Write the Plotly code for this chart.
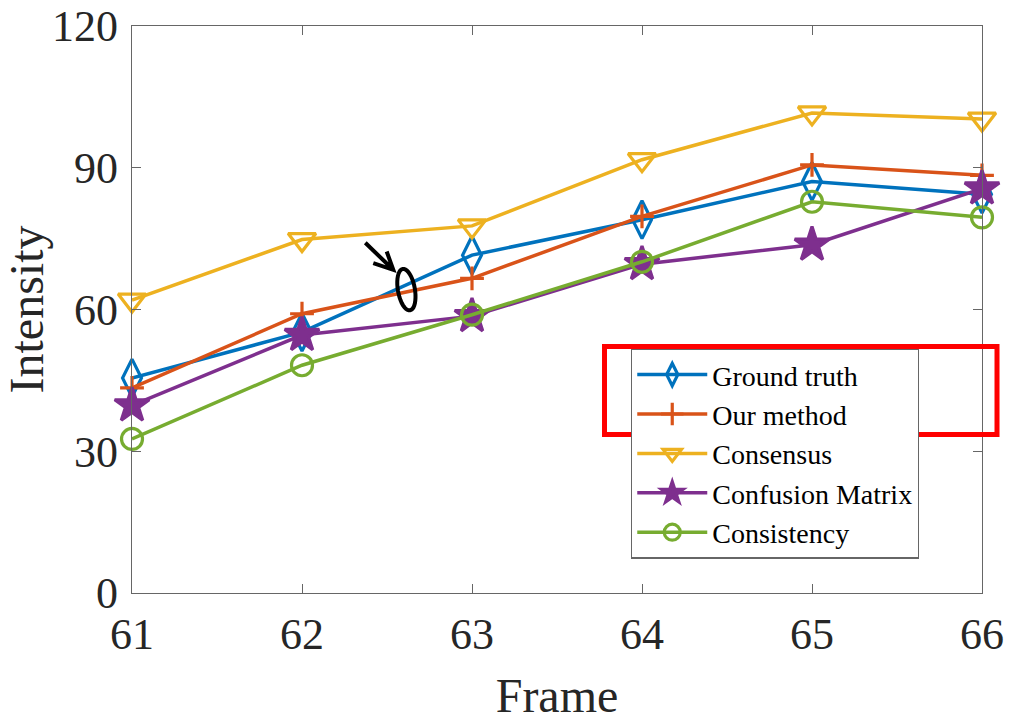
import math
import plotly.graph_objects as go

frames = [61, 62, 63, 64, 65, 66]
ground_truth = [45.5, 55.2, 71.5, 79.0, 87.1, 84.4]
our_method = [43.4, 59.1, 66.6, 79.7, 90.6, 88.4]
consensus = [62.0, 74.8, 77.7, 91.7, 101.6, 100.3]
confusion_matrix = [39.7, 54.6, 58.6, 69.6, 73.7, 85.6]
consistency = [32.6, 48.2, 58.9, 70.1, 82.8, 79.5]

series_names = ["Ground truth", "Our method", "Consensus", "Confusion Matrix", "Consistency"]
series_values = [ground_truth, our_method, consensus, confusion_matrix, consistency]
colors = ["#0072BD", "#D95319", "#EDB120", "#7E2F8E", "#77AC30"]
symbols = ["diamond-tall-open", "cross-thin-open", "triangle-down-open", "star", "circle-open"]
msizes = [27, 17, 24, 26, 21]

FONT = "Liberation Serif"

fig = go.Figure()
for name, vals, c, s, ms in zip(series_names, series_values, colors, symbols, msizes):
    fig.add_trace(go.Scatter(
        x=frames, y=vals, name=name, mode="lines+markers", cliponaxis=False,
        line=dict(color=c, width=3.5),
        marker=dict(symbol=s, size=ms, color=c, line=dict(color=c, width=3.2)),
    ))

axis_common = dict(
    showline=True, linecolor="#666666", linewidth=1.3, mirror="ticks",
    ticks="inside", ticklen=9, tickwidth=1.3, tickcolor="#666666",
    showgrid=False, zeroline=False, automargin=False,
    tickfont=dict(family=FONT, size=44, color="#262626"),
)
fig.update_xaxes(range=[61, 66], dtick=1, tick0=61, ticklabelstandoff=2,
                 title=dict(text="Frame", font=dict(family=FONT, size=48, color="#262626"), standoff=34),
                 **axis_common)
fig.update_yaxes(range=[0, 120], dtick=30, tick0=0, ticklabelstandoff=4,
                 title=dict(text="Intensity", font=dict(family=FONT, size=48, color="#262626"), standoff=4),
                 **axis_common)

fig.update_layout(
    width=1009, height=722,
    margin=dict(l=132, r=27, t=26, b=129),
    paper_bgcolor="white", plot_bgcolor="white",
    showlegend=True,
    legend=dict(
        x=0.587, y=0.431, xanchor="left", yanchor="top",
        bgcolor="white", bordercolor="#666666", borderwidth=1.3,
        font=dict(family=FONT, size=28, color="black"),
        itemwidth=70, tracegroupgap=0,
    ),
)

# red highlight rectangle around first two legend entries (paper coords)
def px_to_paper_x(px):
    return (px - 132) / 850.0

def px_to_paper_y(py):
    return (722 - 129 - py) / 567.0

fig.add_shape(type="rect", xref="paper", yref="paper",
              x0=px_to_paper_x(604.5), x1=px_to_paper_x(997),
              y0=px_to_paper_y(434.5), y1=px_to_paper_y(346.5),
              line=dict(color="#FF0000", width=5), layer="above")

# arrow (open V head) drawn as a pixel-sized path anchored at its tip
fig.add_shape(type="path", xref="x", yref="y",
              xsizemode="pixel", ysizemode="pixel",
              xanchor=62.537, yanchor=68.4,
              path="M -28,27 L 0,0 M -6.6,18.3 L 0,0 L -20,6.7",
              line=dict(color="black", width=4), layer="above")

# tilted ellipse
theta = math.radians(10)
rx, ry = 8.5, 21.0
pts = []
for k in range(41):
    t = 2 * math.pi * k / 40
    x = rx * math.cos(t) * math.cos(theta) - ry * math.sin(t) * math.sin(theta)
    y = rx * math.cos(t) * math.sin(theta) + ry * math.sin(t) * math.cos(theta)
    pts.append(f"{x:.2f},{y:.2f}")
ell_path = "M " + " L ".join(pts) + " Z"
fig.add_shape(type="path", xref="x", yref="y",
              xsizemode="pixel", ysizemode="pixel",
              xanchor=62.614, yanchor=64.2,
              path=ell_path, line=dict(color="black", width=4), layer="above")

fig.write_html("out.html")
